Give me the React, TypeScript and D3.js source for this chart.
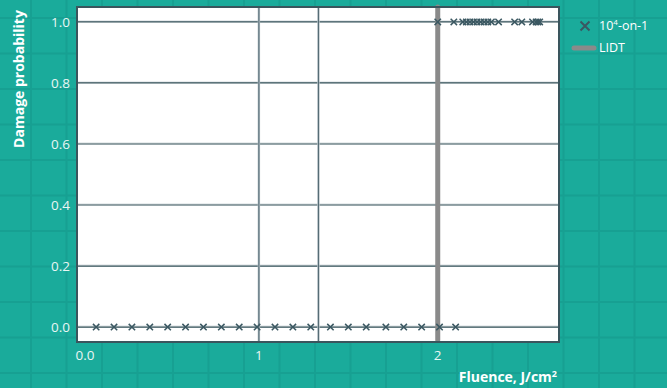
import React from "react";
import * as d3 from "d3";

const W = 667;
const H = 388;

const bottomFluence = [0.09, 0.19, 0.29, 0.39, 0.49, 0.59, 0.69, 0.79, 0.89, 0.99, 1.09, 1.19, 1.29, 1.4, 1.5, 1.6, 1.71, 1.81, 1.91, 2.01, 2.1];
const topFluence = [2.0, 2.09, 2.14, 2.16, 2.18, 2.2, 2.22, 2.24, 2.26, 2.28, 2.3, 2.34, 2.43, 2.47, 2.53, 2.55, 2.56, 2.57];
const lidtValue = 2.0;
const yTicks = [0, 0.2, 0.4, 0.6, 0.8, 1.0];
const xTicks = [0, 1, 2];
const xTickLabels = ["0.0", "1", "2"];
const xGridValues = [1, 1.333];
const legendLabels = ["10", "LIDT"];

export default function App() {
  const left = 77, right = 559, top = 7, bottom = 342;
  const x = d3.scaleLinear().domain([-0.017, 2.678]).range([left, right]);
  const y = d3.scaleLinear().domain([-0.049, 1.049]).range([bottom, top]);

  const bgStep = 35.5;
  const bgX = d3.range(31 - bgStep, W + bgStep, bgStep);
  const bgY = d3.range(18 - bgStep, H + bgStep, bgStep);

  const points = [
    ...bottomFluence.map((f) => ({ f, p: 0 })),
    ...topFluence.map((f) => ({ f, p: 1 })),
  ];
  const markerColor = "#3b5862";
  const font = "'Open Sans', sans-serif";
  const xm = (cx: number, cy: number, s: number, sw: number, key: string) => (
    <path
      key={key}
      d={`M${cx - s},${cy - s}L${cx + s},${cy + s}M${cx - s},${cy + s}L${cx + s},${cy - s}`}
      stroke={markerColor}
      strokeWidth={sw}
      fill="none"
    />
  );

  return (
    <svg width={W} height={H} style={{ position: "absolute", left: 0, top: 0 }}>
      <rect width={W} height={H} fill="#1aab9b" />
      {bgX.map((v, i) => (
        <line key={"bx" + i} x1={v} x2={v} y1={0} y2={H} stroke="#17a092" strokeWidth={2} />
      ))}
      {bgY.map((v, i) => (
        <line key={"by" + i} x1={0} x2={W} y1={v} y2={v} stroke="#17a092" strokeWidth={2} />
      ))}
      <rect x={left} y={top} width={right - left} height={bottom - top} fill="#ffffff" />
      {yTicks.map((t) => (
        <g key={"yg" + t}>
          <line x1={left} x2={right} y1={y(t) - 1} y2={y(t) - 1} stroke="#d5dcdf" strokeWidth={1} />
          <line x1={left} x2={right} y1={y(t)} y2={y(t)} stroke="#2e4c55" strokeWidth={1.2} />
        </g>
      ))}
      {xGridValues.map((t) => (
        <g key={"xg" + t}>
          <line x1={x(t)} x2={x(t)} y1={top} y2={bottom} stroke="#b6c1c6" strokeWidth={2.4} />
          <line x1={x(t)} x2={x(t)} y1={top} y2={bottom} stroke="#4f6670" strokeWidth={1} />
        </g>
      ))}
      <line x1={x(lidtValue)} x2={x(lidtValue)} y1={top} y2={bottom - 2} stroke="#8a8a8a" strokeWidth={5} strokeLinecap="round" />
      {points.map((d, i) => xm(x(d.f), y(d.p), 3.2, 1.5, "pt" + i))}
      <rect x={left} y={top} width={right - left} height={bottom - top} fill="none" stroke="#3a555d" strokeWidth={2} />
      {yTicks.map((t) => (
        <text key={"yl" + t} x={70} y={y(t)} dy="0.35em" textAnchor="end" fill="#e9f6f4" fontSize={13.5} fontFamily={font}>
          {t.toFixed(1)}
        </text>
      ))}
      {xTicks.map((t, i) => (
        <text key={"xl" + t} x={x(t) + (i === 0 ? 5 : 0)} y={355} dy="0.35em" textAnchor="middle" fill="#e9f6f4" fontSize={13.5} fontFamily={font}>
          {xTickLabels[i]}
        </text>
      ))}
      <text transform={`translate(24,${79}) rotate(-90)`} textAnchor="middle" fill="#ffffff" fontSize={14} fontWeight="bold" fontFamily={font}>
        Damage probability
      </text>
      <text x={557} y={382} textAnchor="end" fill="#ffffff" fontSize={14} fontWeight="bold" fontFamily={font}>
        Fluence, J/cm<tspan fontSize={9} dy={-5}>2</tspan>
      </text>
      {xm(585, 26, 4.5, 2, "leg1")}
      <text x={599} y={26} dy="0.35em" fill="#ffffff" fontSize={12.5} fontFamily={font}>
        {legendLabels[0]}
        <tspan fontSize={8} dy={-5}>4</tspan>
        <tspan dy={5}>-on-1</tspan>
      </text>
      <line x1={574} x2={594} y1={48} y2={48} stroke="#8a8a8a" strokeWidth={5} strokeLinecap="round" />
      <text x={599} y={48} dy="0.35em" fill="#ffffff" fontSize={12.5} fontFamily={font}>
        {legendLabels[1]}
      </text>
    </svg>
  );
}
